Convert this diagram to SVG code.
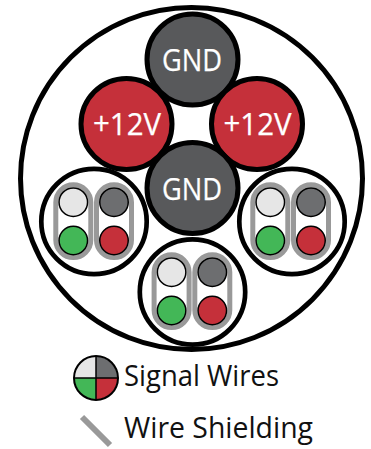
<svg xmlns="http://www.w3.org/2000/svg" width="371" height="449" viewBox="0 0 371 449">
<style>
.c{stroke:#000;stroke-width:5}
.b{fill:#fff;stroke:#000;stroke-width:4.7}
.g{fill:#58595b}.r{fill:#c5303a}
.t{font-family:"Open Sans","Noto Sans",sans-serif;text-anchor:middle;fill:#fff;font-size:31px;stroke:#fff;stroke-width:.25}
.s{fill:#fff;stroke:#999;stroke-width:5}
.w{stroke:#000;stroke-width:1.5}
.l{font-family:"Open Sans","Noto Sans",sans-serif;fill:#111;font-size:29px}
</style>
<defs>
<g id="bundle">
<rect class="s" x="-38.2" y="-36.7" width="35" height="72.700" rx="17.5"/>
<rect class="s" x="2.500" y="-36.7" width="35" height="72.700" rx="17.5"/>
<circle class="w" cx="-20.700" cy="-19.300" r="14.250" fill="#e6e6e6"/>
<circle class="w" cx="20" cy="-19.300" r="14.250" fill="#6d6e70"/>
<circle class="w" cx="-20.700" cy="19" r="14.250" fill="#43b757"/>
<circle class="w" cx="20" cy="19" r="14.250" fill="#c5303a"/>
</g>
</defs>
<circle id="jacket" cx="191.500" cy="178.500" r="171" fill="#fff" stroke="#000" stroke-width="5"/>
<g id="gnd-top"><circle class="c g" cx="192.500" cy="59.500" r="45.500"/><text class="t" x="192" y="71" textLength="60" lengthAdjust="spacingAndGlyphs">GND</text></g>
<g id="v12-left"><circle class="c r" cx="126.500" cy="124" r="45.500"/><text class="t" x="127" y="135" textLength="68" lengthAdjust="spacingAndGlyphs">+12V</text></g>
<g id="v12-right"><circle class="c r" cx="257" cy="124" r="45.500"/><text class="t" x="257.500" y="135" textLength="68" lengthAdjust="spacingAndGlyphs">+12V</text></g>
<g id="gnd-bottom"><circle class="c g" cx="192.500" cy="188" r="45.500"/><text class="t" x="192" y="199.500" textLength="60" lengthAdjust="spacingAndGlyphs">GND</text></g>
<g id="bundle-left"><circle class="b" cx="94" cy="221.500" r="52.700"/><use href="#bundle" x="94" y="221.500"/></g>
<g id="bundle-right"><circle class="b" cx="292" cy="221.500" r="52.700"/><use href="#bundle" x="291" y="221.500"/></g>
<g id="bundle-bottom"><circle class="b" cx="192.500" cy="292" r="52.700"/><use href="#bundle" x="192.300" y="291.500"/></g>
<g id="legend-signal">
<path d="M96 378V356.500A21.500 21.500 0 0 0 74.500 378Z" fill="#e6e6e6"/>
<path d="M96 378V356.500A21.500 21.500 0 0 1 117.500 378Z" fill="#6d6e70"/>
<path d="M96 378H74.500A21.500 21.500 0 0 0 96 399.500Z" fill="#43b757"/>
<path d="M96 378H117.500A21.500 21.500 0 0 1 96 399.500Z" fill="#c5303a"/>
<circle cx="96" cy="378" r="22" fill="none" stroke="#000" stroke-width="2"/>
<path d="M96 356V400M74 378H118" stroke="#000" stroke-width="1.500"/>
<text class="l" x="124" y="386" textLength="155" lengthAdjust="spacingAndGlyphs">Signal Wires</text>
</g>
<g id="legend-shield">
<line x1="82" y1="417" x2="110" y2="445" stroke="#999" stroke-width="6"/>
<text class="l" x="124" y="438" textLength="189" lengthAdjust="spacingAndGlyphs">Wire Shielding</text>
</g>
</svg>
